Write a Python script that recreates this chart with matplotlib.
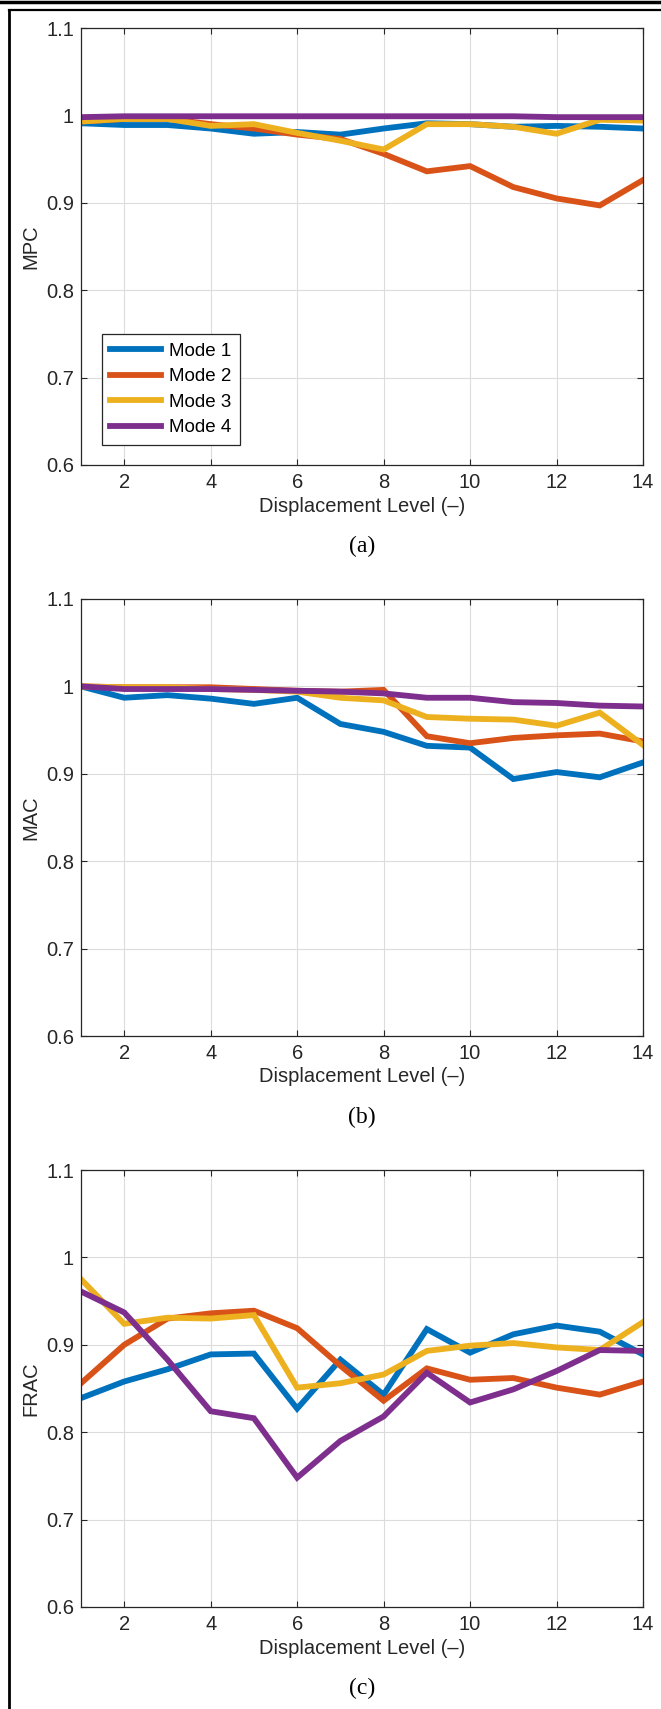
import numpy as np
import matplotlib
matplotlib.use('Agg')
import matplotlib.pyplot as plt
from matplotlib.lines import Line2D

plt.rcParams['font.family'] = ['Liberation Sans', 'DejaVu Sans']

# Displacement levels
levels = np.arange(1, 15)
mode_names = ['Mode 1', 'Mode 2', 'Mode 3', 'Mode 4']
mode_colors = ['#0072BD', '#D95319', '#EDB120', '#7E2F8E']

# (a) MPC
mpc_mode1 = [0.991, 0.989, 0.989, 0.985, 0.979, 0.981, 0.978, 0.985, 0.991, 0.990, 0.987, 0.988, 0.987, 0.985]
mpc_mode2 = [0.993, 0.996, 0.996, 0.990, 0.985, 0.978, 0.973, 0.956, 0.936, 0.942, 0.918, 0.905, 0.897, 0.926]
mpc_mode3 = [0.993, 0.996, 0.996, 0.988, 0.990, 0.980, 0.971, 0.961, 0.990, 0.990, 0.987, 0.979, 0.995, 0.994]
mpc_mode4 = [0.998, 0.999, 0.999, 0.999, 0.999, 0.999, 0.999, 0.999, 0.999, 0.999, 0.999, 0.998, 0.998, 0.998]

# (b) MAC
mac_mode1 = [1.000, 0.987, 0.990, 0.986, 0.980, 0.987, 0.957, 0.948, 0.932, 0.930, 0.894, 0.902, 0.896, 0.913]
mac_mode2 = [1.000, 0.999, 0.999, 0.999, 0.997, 0.995, 0.994, 0.996, 0.943, 0.935, 0.941, 0.944, 0.946, 0.937]
mac_mode3 = [1.000, 0.999, 0.999, 0.997, 0.996, 0.994, 0.987, 0.984, 0.965, 0.963, 0.962, 0.955, 0.970, 0.933]
mac_mode4 = [1.000, 0.997, 0.997, 0.997, 0.996, 0.995, 0.994, 0.992, 0.987, 0.987, 0.982, 0.981, 0.978, 0.977]

# (c) FRAC
frac_mode1 = [0.839, 0.858, 0.872, 0.889, 0.890, 0.827, 0.883, 0.843, 0.918, 0.891, 0.912, 0.922, 0.915, 0.889]
frac_mode2 = [0.856, 0.900, 0.930, 0.936, 0.939, 0.919, 0.876, 0.836, 0.873, 0.860, 0.862, 0.851, 0.843, 0.858]
frac_mode3 = [0.975, 0.924, 0.931, 0.930, 0.934, 0.851, 0.856, 0.866, 0.893, 0.899, 0.902, 0.897, 0.894, 0.926]
frac_mode4 = [0.961, 0.937, 0.883, 0.824, 0.816, 0.748, 0.790, 0.818, 0.868, 0.834, 0.849, 0.870, 0.894, 0.893]

panels = [
    ('MPC', '(a)', [mpc_mode1, mpc_mode2, mpc_mode3, mpc_mode4]),
    ('MAC', '(b)', [mac_mode1, mac_mode2, mac_mode3, mac_mode4]),
    ('FRAC', '(c)', [frac_mode1, frac_mode2, frac_mode3, frac_mode4]),
]

xticks = [2, 4, 6, 8, 10, 12, 14]
yticks = [0.6, 0.7, 0.8, 0.9, 1.0, 1.1]
ytick_labels = ['0.6', '0.7', '0.8', '0.9', '1', '1.1']

W, H = 661, 1709
fig = plt.figure(figsize=(W / 100, H / 100), dpi=100)

# panel geometry in pixels
left, right = 81, 643
tops = [28, 599, 1170]
height = 437

for (ylab, cap, series), top in zip(panels, tops):
    ax = fig.add_axes([left / W, 1 - (top + height) / H, (right - left) / W, height / H])
    for vals, name, col in zip(series, mode_names, mode_colors):
        ax.plot(levels, vals, color=col, lw=4.2, label=name, solid_joinstyle='miter')
    ax.set_xlim(1, 14)
    ax.set_ylim(0.6, 1.1)
    ax.set_xticks(xticks)
    ax.set_yticks(yticks)
    ax.set_yticklabels(ytick_labels)
    ax.grid(True, color='#dcdcdc', lw=0.8)
    ax.set_axisbelow(True)
    ax.tick_params(direction='in', length=4, width=0.8, top=True, right=True,
                   labelsize=14.5, colors='#262626')
    ax.tick_params(axis='x', pad=6)
    ax.tick_params(axis='y', pad=5)
    for sp in ax.spines.values():
        sp.set_color('#262626')
        sp.set_linewidth(0.9)
    ax.set_xlabel('Displacement Level (–)', fontsize=14.5, color='#262626', labelpad=3)
    ax.set_ylabel(ylab, fontsize=14.5, color='#262626', labelpad=4)
    fig.text((left + right) / 2 / W, 1 - (top + height + 81) / H, cap,
             ha='center', va='center', fontsize=17, family='Liberation Serif')
    if cap == '(a)':
        leg = ax.legend(loc='lower left', bbox_to_anchor=(0.037, 0.046), borderaxespad=0,
                        fancybox=False, edgecolor='#262626', fontsize=13.5,
                        handlelength=2.7, handletextpad=0.45, labelspacing=0.45,
                        borderpad=0.45, framealpha=1)
        leg.get_frame().set_linewidth(0.9)

# frame lines round the figure
fig.add_artist(Line2D([0, 1], [1 - 1.5 / H, 1 - 1.5 / H], color='black', lw=2.5, transform=fig.transFigure))
fig.add_artist(Line2D([8.5 / W, 1], [1 - 10 / H, 1 - 10 / H], color='black', lw=1.6, transform=fig.transFigure))
fig.add_artist(Line2D([8.5 / W, 8.5 / W], [1 - 10 / H, 0], color='black', lw=2.0, transform=fig.transFigure))

fig.savefig('out.png', dpi=100)
